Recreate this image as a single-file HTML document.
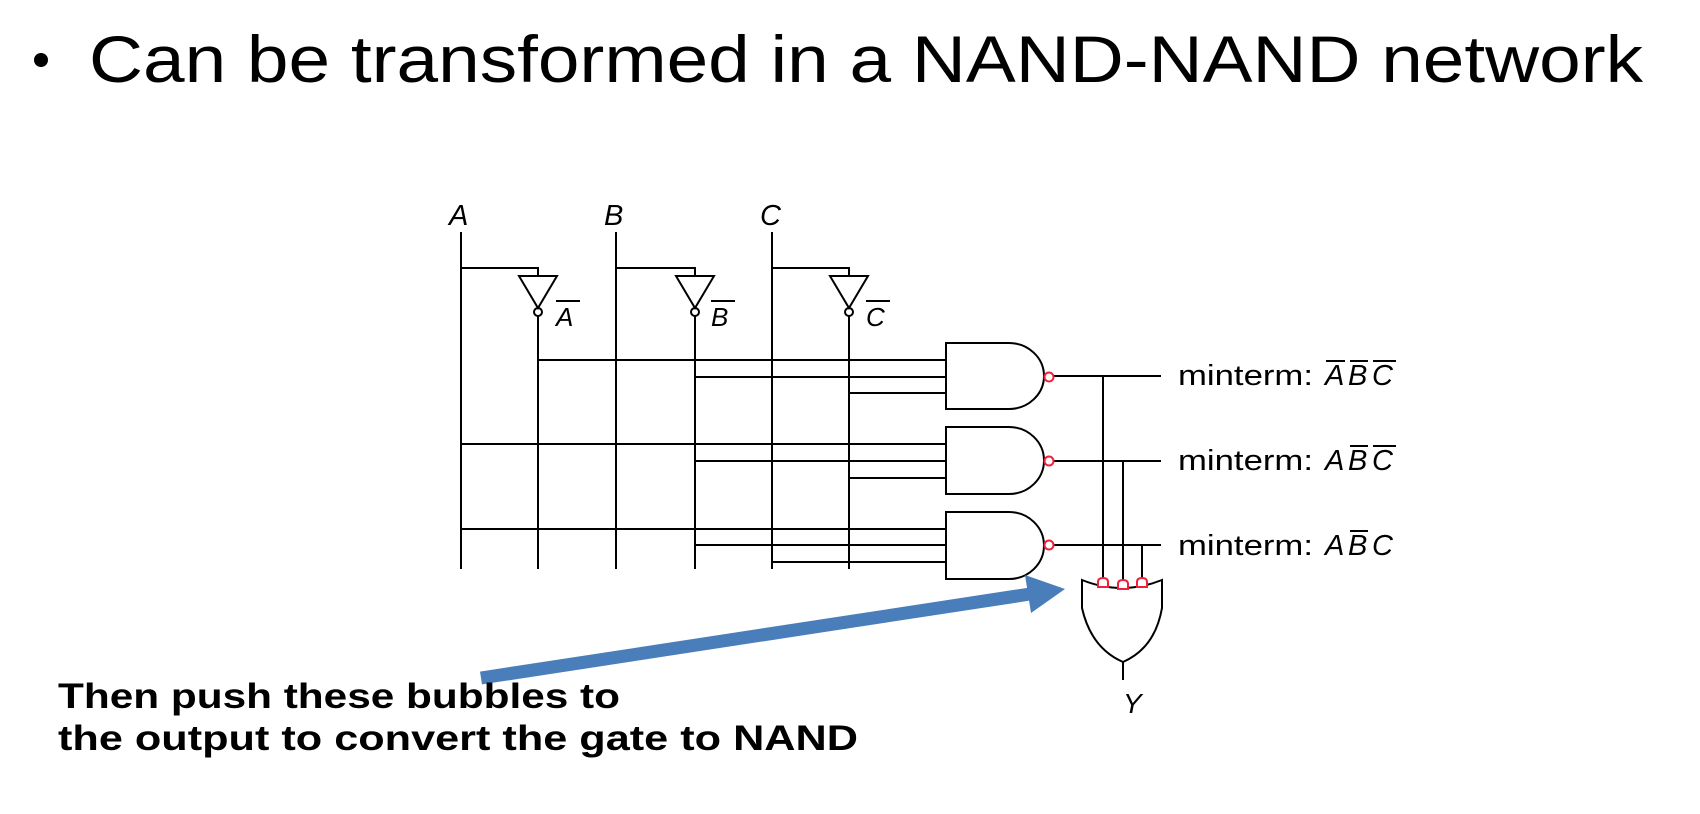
<!DOCTYPE html>
<html><head><meta charset="utf-8"><style>
html,body{margin:0;padding:0;background:#fff;}
svg{display:block;}
</style></head><body>
<svg width="1700" height="814" viewBox="0 0 1700 814" xmlns="http://www.w3.org/2000/svg">
<circle cx="41" cy="60" r="7" fill="#000"/>
<text x="89" y="82" font-family="Liberation Sans, sans-serif" font-size="66" textLength="1554" lengthAdjust="spacingAndGlyphs" fill="#000">Can be transformed in a NAND-NAND network</text>

<g stroke="#000" stroke-width="2" fill="none">
  <line x1="461" y1="232" x2="461" y2="569"/>
  <line x1="616" y1="232" x2="616" y2="569"/>
  <line x1="772" y1="232" x2="772" y2="569"/>
  <polyline points="461,268 538,268 538,276"/>
  <polyline points="616,268 695,268 695,276"/>
  <polyline points="772,268 849,268 849,276"/>
  <polygon points="519,276 557,276 538,308"/>
  <polygon points="676,276 714,276 695,308"/>
  <polygon points="830,276 868,276 849,308"/>
  <circle cx="538" cy="312" r="4"/>
  <circle cx="695" cy="312" r="4"/>
  <circle cx="849" cy="312" r="4"/>
  <line x1="538" y1="316" x2="538" y2="569"/>
  <line x1="695" y1="316" x2="695" y2="569"/>
  <line x1="849" y1="316" x2="849" y2="569"/>
  <line x1="538" y1="360" x2="946" y2="360"/>
  <line x1="695" y1="377" x2="946" y2="377"/>
  <line x1="849" y1="393" x2="946" y2="393"/>
  <line x1="461" y1="444" x2="946" y2="444"/>
  <line x1="695" y1="461" x2="946" y2="461"/>
  <line x1="849" y1="478" x2="946" y2="478"/>
  <line x1="461" y1="529" x2="946" y2="529"/>
  <line x1="695" y1="545" x2="946" y2="545"/>
  <line x1="772" y1="562" x2="946" y2="562"/>
  <path d="M1009,343 H946 V409 H1009 A35,33 0 0 0 1009,343 Z"/>
  <path d="M1009,427 H946 V494 H1009 A35,33.5 0 0 0 1009,427 Z"/>
  <path d="M1009,512 H946 V579 H1009 A35,33.5 0 0 0 1009,512 Z"/>
  <line x1="1054" y1="376" x2="1161" y2="376"/>
  <line x1="1054" y1="461" x2="1161" y2="461"/>
  <line x1="1054" y1="545" x2="1161" y2="545"/>
  <line x1="1103" y1="376" x2="1103" y2="580"/>
  <line x1="1123" y1="461" x2="1123" y2="582"/>
  <line x1="1142" y1="545" x2="1142" y2="580"/>
  <path d="M1082,580 Q1122,596 1162,580 V608 Q1155,648 1123,662 Q1091,648 1082,608 Z"/>
  <line x1="1123" y1="662" x2="1123" y2="680"/>
</g>
<g stroke="#f0203a" stroke-width="2" fill="#fff">
  <circle cx="1049" cy="377" r="4.5"/>
  <circle cx="1049" cy="461" r="4.5"/>
  <circle cx="1049" cy="545" r="4.5"/>
  <path d="M1098,587 V582 Q1098,578 1103,578 Q1108,578 1108,582 V587 Z"/>
  <path d="M1118,589 V584 Q1118,580 1123,580 Q1128,580 1128,584 V589 Z"/>
  <path d="M1137,587 V582 Q1137,578 1142,578 Q1147,578 1147,582 V587 Z"/>
</g>

<g font-family="Liberation Sans, sans-serif" font-style="italic" fill="#000">
  <text x="449" y="225" font-size="29">A</text>
  <text x="604" y="225" font-size="29">B</text>
  <text x="760" y="225" font-size="29">C</text>
  <text x="556" y="326" font-size="26">A</text>
  <text x="711" y="326" font-size="26">B</text>
  <text x="866" y="326" font-size="26">C</text>
  <text x="1123" y="713" font-size="28">Y</text>
</g>
<g stroke="#000" stroke-width="2">
  <line x1="556" y1="301" x2="580" y2="301"/>
  <line x1="711" y1="301" x2="735" y2="301"/>
  <line x1="866" y1="301" x2="890" y2="301"/>
</g>

<g font-family="Liberation Sans, sans-serif" font-size="29" fill="#000">
  <text x="1178" y="385" textLength="135" lengthAdjust="spacingAndGlyphs">minterm:</text>
  <text x="1178" y="470" textLength="135" lengthAdjust="spacingAndGlyphs">minterm:</text>
  <text x="1178" y="555" textLength="135" lengthAdjust="spacingAndGlyphs">minterm:</text>
  <g font-style="italic">
    <text x="1325" y="385">A</text><text x="1348" y="385">B</text><text x="1372" y="385">C</text>
    <text x="1325" y="470">A</text><text x="1348" y="470">B</text><text x="1372" y="470">C</text>
    <text x="1325" y="555">A</text><text x="1348" y="555">B</text><text x="1372" y="555">C</text>
  </g>
</g>
<g stroke="#000" stroke-width="2">
  <line x1="1326" y1="361" x2="1345" y2="361"/>
  <line x1="1350" y1="361" x2="1368" y2="361"/>
  <line x1="1373" y1="361" x2="1396" y2="361"/>
  <line x1="1350" y1="446" x2="1368" y2="446"/>
  <line x1="1373" y1="446" x2="1396" y2="446"/>
  <line x1="1350" y1="531" x2="1368" y2="531"/>
</g>

<line x1="481" y1="678" x2="1030" y2="594" stroke="#4a7ebb" stroke-width="13"/>
<polygon points="1025,575 1065,589 1031,613" fill="#4a7ebb"/>

<g font-family="Liberation Sans, sans-serif" font-weight="bold" font-size="35" fill="#000">
  <text x="58" y="708" textLength="562" lengthAdjust="spacingAndGlyphs">Then push these bubbles to</text>
  <text x="58" y="750" textLength="800" lengthAdjust="spacingAndGlyphs">the output to convert the gate to NAND</text>
</g>
</svg>
</body></html>
